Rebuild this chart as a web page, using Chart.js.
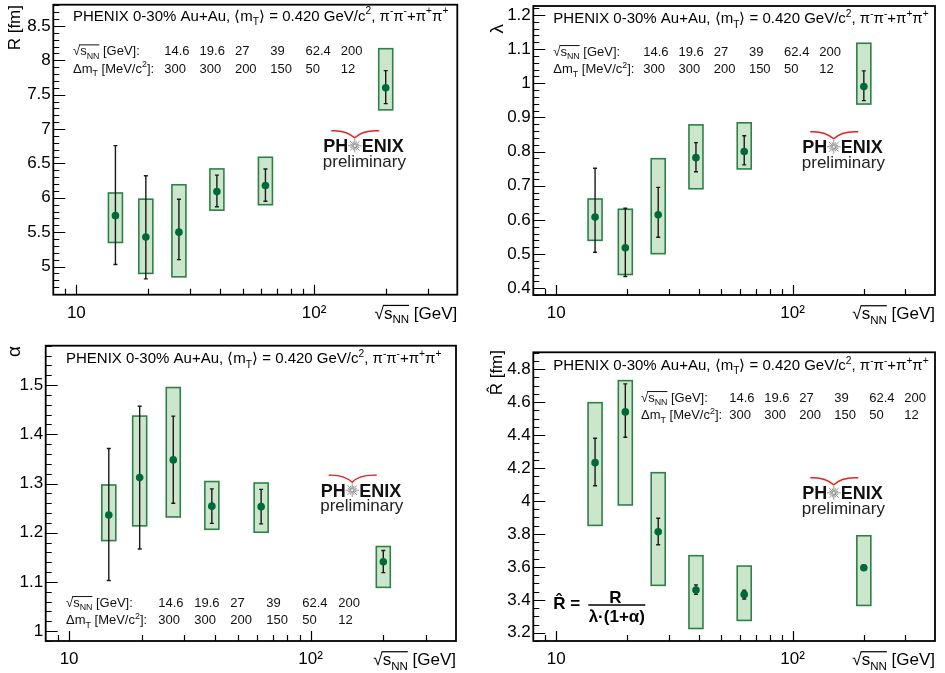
<!DOCTYPE html>
<html>
<head>
<meta charset="utf-8">
<script src="https://cdn.jsdelivr.net/npm/chart.js@4.4.1/dist/chart.umd.min.js"></script>
<style>
html,body{margin:0;padding:0;background:#fff;}
#wrap{position:relative;width:945px;height:673px;overflow:hidden;background:#fff;}
canvas{position:absolute;}
</style>
</head>
<body>
<div id="wrap">
<canvas id="cR" width="472" height="336" style="left:0;top:0"></canvas>
<canvas id="cL" width="473" height="336" style="left:472px;top:0"></canvas>
<canvas id="cA" width="472" height="337" style="left:0;top:336px"></canvas>
<canvas id="cH" width="473" height="337" style="left:472px;top:336px"></canvas>
</div>
<script>
// =========================
// DATA
// =========================

let energies=[14.6,19.6,27,39,62.4,200]
let dmT=[300,300,200,150,50,12]

// R [fm]
let rVal=[5.74,5.43,5.50,6.09,6.18,7.60]
let rStatHi=[6.76,6.32,5.98,6.33,6.42,7.85]
let rStatLo=[5.03,4.82,5.10,5.87,5.95,7.37]
let rSysHi=[6.07,5.98,6.19,6.42,6.59,8.17]
let rSysLo=[5.35,4.90,4.85,5.82,5.90,7.28]

// lambda
let lamVal=[0.608,0.518,0.615,0.782,0.800,0.990]
let lamStatHi=[0.751,0.634,0.695,0.826,0.846,1.036]
let lamStatLo=[0.505,0.434,0.549,0.741,0.761,0.949]
let lamSysHi=[0.661,0.631,0.779,0.878,0.884,1.117]
let lamSysLo=[0.540,0.440,0.501,0.691,0.749,0.939]

// alpha
let alpVal=[1.236,1.312,1.348,1.254,1.253,1.141]
let alpStatHi=[1.371,1.457,1.437,1.289,1.288,1.164]
let alpStatLo=[1.103,1.167,1.260,1.219,1.218,1.119]
let alpSysHi=[1.297,1.437,1.495,1.304,1.301,1.172]
let alpSysLo=[1.184,1.214,1.232,1.207,1.201,1.089]

// R hat [fm]
let rhVal=[4.233,4.541,3.813,3.459,3.433,3.595]
let rhStatHi=[4.381,4.711,3.895,3.491,3.459,3.611]
let rhStatLo=[4.093,4.387,3.734,3.433,3.405,3.579]
let rhSysHi=[4.597,4.731,4.172,3.668,3.605,3.789]
let rhSysLo=[3.852,3.976,3.488,3.226,3.275,3.366]

// axis ticks
let xTicks=[10,100]
let xMinor=[9,20,30,40,50,60,70,80,90,200,300]
let rTicks=[5,5.5,6,6.5,7,7.5,8,8.5]
let lamTicks=[0.4,0.5,0.6,0.7,0.8,0.9,1,1.1,1.2]
let alpTicks=[1,1.1,1.2,1.3,1.4,1.5]
let rhTicks=[3.2,3.4,3.6,3.8,4,4.2,4.4,4.6,4.8]

// =========================
// DRAW HELPERS
// =========================

const FONT='"Liberation Sans", Arial, Helvetica, sans-serif'
const BOX_FILL='#cce6cc'
const BOX_LINE='#2f8048'
const MARK='#00693a'

function rich(ctx,x,y,parts,size,weight){
  let cx=x
  for(const [t,m] of parts){
    let s=size,dy=0
    if(m==='sub'){s=size*0.68;dy=size*0.28}
    if(m==='sup'){s=size*0.68;dy=-size*0.42}
    ctx.font=(weight||'')+' '+s+'px '+FONT
    ctx.fillText(t,cx,y+dy)
    cx+=ctx.measureText(t).width
  }
  return cx-x
}

function measureRich(ctx,parts,size,weight){
  let w=0
  for(const [t,m] of parts){
    let s=(m==='sub'||m==='sup')?size*0.68:size
    ctx.font=(weight||'')+' '+s+'px '+FONT
    w+=ctx.measureText(t).width
  }
  return w
}

// sqrt(s_NN) followed by a tail text
function sqrtS(ctx,x,y,size,tail){
  ctx.font=size+'px '+FONT
  ctx.fillText('√',x,y)
  let w0=ctx.measureText('√').width
  let w1=rich(ctx,x+w0,y,[['s',''],['NN','sub']],size)
  ctx.save()
  ctx.strokeStyle=ctx.fillStyle
  ctx.lineWidth=Math.max(1,size/14)
  ctx.beginPath()
  ctx.moveTo(x+w0-1,y-size*0.78)
  ctx.lineTo(x+w0+w1,y-size*0.78)
  ctx.stroke()
  ctx.restore()
  let w2=rich(ctx,x+w0+w1,y,tail,size)
  return w0+w1+w2
}

function drawLogo(ctx,x0,yb){
  ctx.save()
  ctx.textAlign='left'
  ctx.fillStyle='#111'
  ctx.font='bold 18px '+FONT
  ctx.fillText('PH',x0,yb)
  let wPH=ctx.measureText('PH').width
  let cx=x0+wPH+6.5,cy=yb-6.5
  ctx.strokeStyle='#8a8a8a'
  ctx.lineWidth=0.9
  for(let k=0;k<16;k++){
    let a=k*Math.PI/8,r=k%2?4.8:6.8
    ctx.beginPath()
    ctx.moveTo(cx+1.2*Math.cos(a),cy+1.2*Math.sin(a))
    ctx.lineTo(cx+r*Math.cos(a),cy+r*Math.sin(a))
    ctx.stroke()
  }
  ctx.fillText('ENIX',cx+7,yb)
  ctx.strokeStyle='#e3231c'
  ctx.lineWidth=1.4
  ctx.beginPath()
  ctx.moveTo(x0+8,yb-21.5)
  ctx.quadraticCurveTo(x0+22,yb-22.5,cx,yb-14.5)
  ctx.quadraticCurveTo(cx+8,yb-22.5,x0+56,yb-21.5)
  ctx.stroke()
  ctx.fillStyle='#222'
  ctx.font='17px '+FONT
  ctx.fillText('preliminary',x0-0.5,yb+14.4)
  ctx.restore()
}

const HEADER=[['PHENIX 0-30% Au+Au, ⟨m',''],['T','sub'],['⟩ = 0.420 GeV/c',''],['2','sup'],[', π',''],['-','sup'],['π',''],['-','sup'],['+π',''],['+','sup'],['π',''],['+','sup']]

// =========================
// PANEL FACTORY
// =========================

function makePanel(id,cfg){
  let canvas=document.getElementById(id)
  let W=canvas.width,H=canvas.height
  let f=cfg.frame

  let rootStyle={
    id:'rootStyle',
    beforeDatasetsDraw(chart){
      let {ctx,scales:{x,y}}=chart
      ctx.save()
      // systematic boxes
      energies.forEach((e,i)=>{
        let px=x.getPixelForValue(e)
        let t=y.getPixelForValue(cfg.sysHi[i]),b=y.getPixelForValue(cfg.sysLo[i])
        ctx.fillStyle=BOX_FILL
        ctx.fillRect(px-7,t,14,b-t)
        ctx.strokeStyle=BOX_LINE
        ctx.lineWidth=1.6
        ctx.strokeRect(px-7,t,14,b-t)
      })
      // statistical error bars
      ctx.strokeStyle='#1a1a1a'
      ctx.lineWidth=1.4
      energies.forEach((e,i)=>{
        let px=x.getPixelForValue(e)
        let t=y.getPixelForValue(cfg.statHi[i]),b=y.getPixelForValue(cfg.statLo[i])
        ctx.beginPath()
        ctx.moveTo(px,t);ctx.lineTo(px,b)
        ctx.moveTo(px-2,t);ctx.lineTo(px+2,t)
        ctx.moveTo(px-2,b);ctx.lineTo(px+2,b)
        ctx.stroke()
      })
      ctx.restore()
    },
    afterDraw(chart){
      let {ctx,chartArea:a,scales:{x,y}}=chart
      ctx.save()
      ctx.strokeStyle='#000'
      ctx.lineWidth=1.8
      ctx.strokeRect(a.left,a.top,a.right-a.left,a.bottom-a.top)
      ctx.lineWidth=1.2
      ctx.beginPath()
      // y ticks
      cfg.yTicks.forEach(v=>{
        let py=Math.round(y.getPixelForValue(v))+0.5
        ctx.moveTo(a.left,py);ctx.lineTo(a.left+12,py)
      })
      let st=cfg.yMinor
      for(let k=Math.ceil(cfg.ymin/st);k*st<=cfg.ymax;k++){
        let v=k*st
        if(cfg.yTicks.some(t=>Math.abs(t-v)<st/10))continue
        let py=Math.round(y.getPixelForValue(v))+0.5
        ctx.moveTo(a.left,py);ctx.lineTo(a.left+6,py)
      }
      // x ticks
      xTicks.forEach(v=>{
        let px=Math.round(x.getPixelForValue(v))+0.5
        ctx.moveTo(px,a.bottom);ctx.lineTo(px,a.bottom-10)
      })
      xMinor.forEach(v=>{
        let px=Math.round(x.getPixelForValue(v))+0.5
        ctx.moveTo(px,a.bottom);ctx.lineTo(px,a.bottom-6)
      })
      ctx.stroke()

      ctx.fillStyle='#000'
      ctx.textAlign='left'
      ctx.textBaseline='alphabetic'

      // header
      rich(ctx,cfg.header[0],cfg.header[1],HEADER,15)

      // energy table
      let tb=cfg.table
      ctx.fillStyle='#111'
      sqrtS(ctx,tb.x,tb.y1,13,[[' [GeV]:','']])
      rich(ctx,tb.x,tb.y2,[['Δm',''],['T','sub'],[' [MeV/c',''],['2','sup'],[']:','']],13)
      ctx.font='13px '+FONT
      energies.forEach((e,i)=>{
        ctx.fillText(String(e),tb.cx+i*tb.dx,tb.y1)
        ctx.fillText(String(dmT[i]),tb.cx+i*tb.dx,tb.y2)
      })

      // logo
      drawLogo(ctx,cfg.logo[0],cfg.logo[1])

      // x title, right aligned to frame
      ctx.fillStyle='#000'
      let tail=[[' [GeV]','']]
      let w=measureRich(ctx,[['√',''],['s',''],['NN','sub']],17)+measureRich(ctx,tail,17)
      sqrtS(ctx,a.right-w,a.bottom+24,17,tail)

      // y title, rotated, ending at top
      ctx.save()
      ctx.translate(cfg.ytitle.x,cfg.ytitle.y)
      ctx.rotate(-Math.PI/2)
      ctx.textAlign='right'
      ctx.font=cfg.ytitle.size+'px '+FONT
      ctx.fillText(cfg.ytitle.text,0,0)
      ctx.restore()

      // formula
      if(cfg.formula){
        let [fx,fy]=cfg.formula
        ctx.font='bold 17px '+FONT
        ctx.textAlign='left'
        ctx.fillText('R\u0302 =',fx,fy)
        ctx.textAlign='center'
        ctx.fillText('R',fx+62,fy-6.3)
        ctx.fillText('λ·(1+α)',fx+63.5,fy+13.3)
        ctx.lineWidth=1.5
        ctx.beginPath()
        ctx.moveTo(fx+35,fy-4);ctx.lineTo(fx+92,fy-4)
        ctx.stroke()
      }
      ctx.restore()
    }
  }

  return new Chart(canvas,{
    type:'scatter',
    data:{
      datasets:[{
        data:energies.map((e,i)=>({x:e,y:cfg.val[i]})),
        pointRadius:3.8,
        pointHoverRadius:3.8,
        pointBackgroundColor:MARK,
        pointBorderWidth:0,
        showLine:false
      }]
    },
    options:{
      responsive:false,
      animation:false,
      devicePixelRatio:1,
      events:[],
      layout:{padding:{left:0,top:f.t,right:W-f.r,bottom:0}},
      plugins:{legend:{display:false},tooltip:{enabled:false}},
      scales:{
        x:{
          type:'logarithmic',
          min:8,max:400,
          grid:{display:false,drawTicks:false},
          border:{display:false},
          afterBuildTicks:s=>{s.ticks=xTicks.map(v=>({value:v}))},
          afterFit:s=>{s.height=H-f.b;s.paddingLeft=0;s.paddingRight=0},
          ticks:{
            callback:v=>v===100?'10²':String(v),
            font:{family:FONT,size:17},
            color:'#000',
            padding:8,
            maxRotation:0,
            autoSkip:false
          }
        },
        y:{
          type:'linear',
          min:cfg.ymin,max:cfg.ymax,
          grid:{display:false,drawTicks:false},
          border:{display:false},
          afterBuildTicks:s=>{s.ticks=cfg.yTicks.map(v=>({value:v}))},
          afterFit:s=>{s.width=f.l;s.paddingTop=0;s.paddingBottom=0},
          ticks:{
            callback:v=>String(v),
            font:{family:FONT,size:17},
            color:'#000',
            padding:2.5
          }
        }
      }
    },
    plugins:[rootStyle]
  })
}

// =========================
// PANELS
// =========================

makePanel('cR',{
  frame:{l:53.3,r:457.3,t:4.7,b:294.7},
  ymin:4.59,ymax:8.81,yTicks:rTicks,yMinor:0.1,
  val:rVal,statHi:rStatHi,statLo:rStatLo,sysHi:rSysHi,sysLo:rSysLo,
  header:[73,20.7],
  table:{x:73,cx:164.3,dx:35.3,y1:55,y2:72.5},
  logo:[323.3,152.3],
  ytitle:{text:'R [fm]',x:20,y:5,size:17}
})

makePanel('cL',{
  frame:{l:61.3,r:463,t:6,b:295},
  ymin:0.38,ymax:1.226,yTicks:lamTicks,yMinor:0.02,
  val:lamVal,statHi:lamStatHi,statLo:lamStatLo,sysHi:lamSysHi,sysLo:lamSysLo,
  header:[81.3,23.3],
  table:{x:81.3,cx:171.3,dx:35.2,y1:55.7,y2:73.3},
  logo:[330.3,153.3],
  ytitle:{text:'λ',x:31,y:24,size:19}
})

makePanel('cA',{
  frame:{l:45.7,r:456,t:9.7,b:305},
  ymin:0.98,ymax:1.58,yTicks:alpTicks,yMinor:0.02,
  val:alpVal,statHi:alpStatHi,statLo:alpStatLo,sysHi:alpSysHi,sysLo:alpSysLo,
  header:[66,27.3],
  table:{x:66,cx:158.3,dx:36,y1:270.7,y2:288.3},
  logo:[320.7,160.7],
  ytitle:{text:'α',x:20,y:10,size:19}
})

makePanel('cH',{
  frame:{l:61.3,r:463,t:16.3,b:305},
  ymin:3.15,ymax:4.903,yTicks:rhTicks,yMinor:0.05,
  val:rhVal,statHi:rhStatHi,statLo:rhStatLo,sysHi:rhSysHi,sysLo:rhSysLo,
  header:[81.3,34],
  table:{x:169,cx:257.3,dx:35,y1:65.7,y2:83.3},
  logo:[330.3,163.3],
  ytitle:{text:'R\u0302 [fm]',x:30,y:14,size:17},
  formula:[81.3,273]
})
</script>
</body>
</html>
